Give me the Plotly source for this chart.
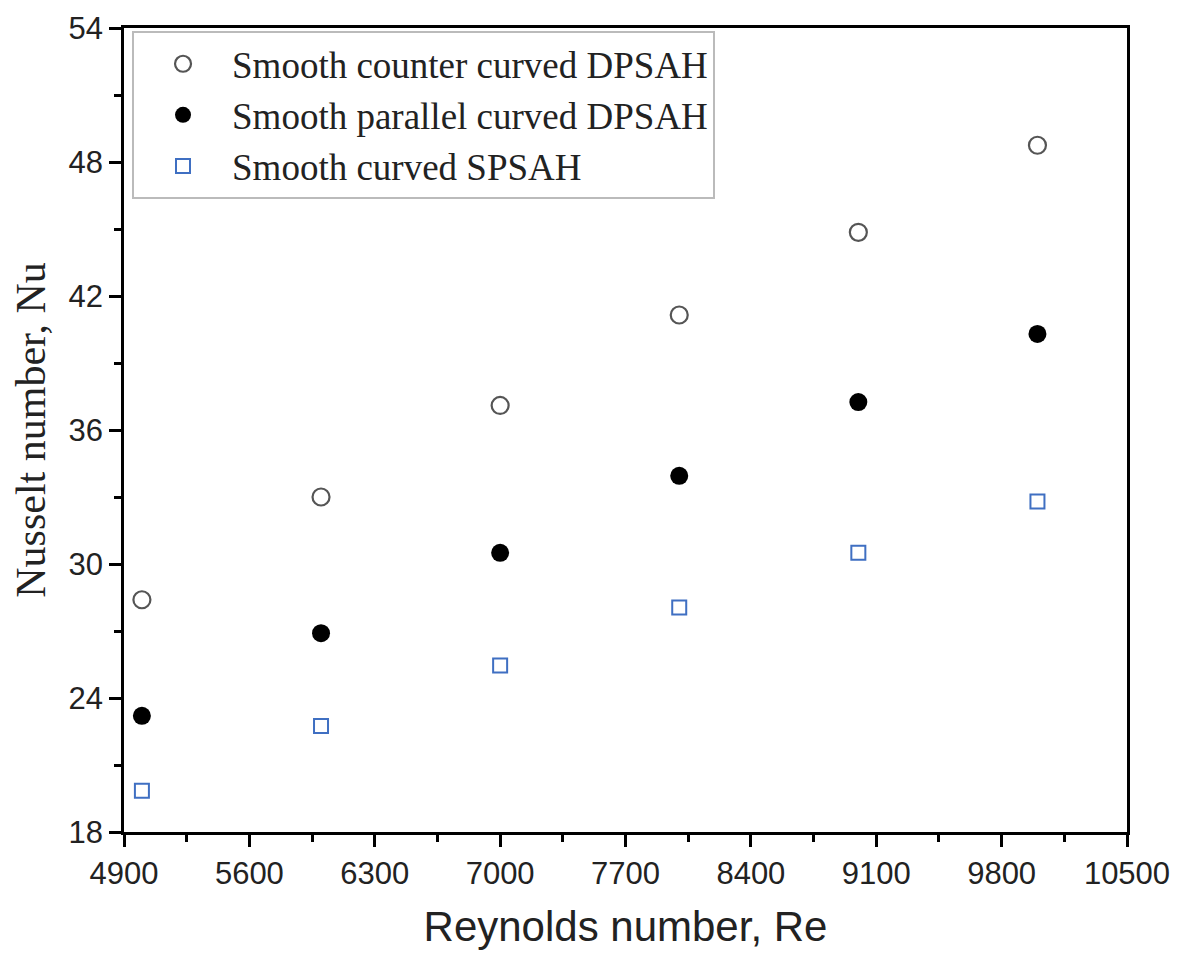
import plotly.graph_objects as go

reynolds = [5000, 6000, 7000, 8000, 9000, 10000]
nu_counter = [28.4, 33.0, 37.1, 41.15, 44.85, 48.75]
nu_parallel = [23.2, 26.9, 30.5, 33.95, 37.25, 40.3]
nu_single = [19.85, 22.75, 25.45, 28.05, 30.5, 32.8]
names = ["Smooth counter curved DPSAH", "Smooth parallel curved DPSAH", "Smooth curved SPSAH"]

fig = go.Figure()
fig.add_trace(go.Scatter(
    x=reynolds, y=nu_counter, mode="markers", name=names[0],
    marker=dict(symbol="circle-open", size=17, color="#555555", line=dict(width=2.2, color="#555555")),
))
fig.add_trace(go.Scatter(
    x=reynolds, y=nu_parallel, mode="markers", name=names[1],
    marker=dict(symbol="circle", size=18, color="#000000"),
))
fig.add_trace(go.Scatter(
    x=reynolds, y=nu_single, mode="markers", name=names[2],
    marker=dict(symbol="square-open", size=14, color="#3f6fc2", line=dict(width=2, color="#3f6fc2")),
))

axis_common = dict(
    showline=True, linecolor="black", linewidth=2.5, mirror=True,
    ticks="outside", ticklen=12, tickwidth=2.5, tickcolor="black",
    showgrid=False, zeroline=False, ticklabeloverflow="allow", automargin=False,
    tickfont=dict(family="Liberation Sans, Arial", size=31, color="#222222"),
)

fig.update_layout(
    width=1191, height=961,
    margin=dict(l=116, r=72, t=20, b=137),
    paper_bgcolor="white", plot_bgcolor="white",
    xaxis=dict(range=[4900, 10500], tick0=4900, dtick=700, tickformat="d",
               minor=dict(ticks="outside", ticklen=7, tickwidth=2.5, tickcolor="black", dtick=350, tick0=4900),
               title=dict(text="Reynolds number, Re", font=dict(family="Liberation Sans, Arial", size=42, color="#222222"), standoff=22),
               **axis_common),
    yaxis=dict(range=[18, 54], tick0=18, dtick=6, tickformat="d",
               minor=dict(ticks="outside", ticklen=7, tickwidth=2.5, tickcolor="black", dtick=3, tick0=18),
               title=dict(text="Nusselt number, Nu", font=dict(family="Liberation Serif, Times New Roman", size=42, color="#222222"), standoff=12),
               **axis_common),
    legend=dict(
        x=0.008, y=0.996, xanchor="left", yanchor="top",
        bgcolor="white", bordercolor="#bbbbbb", borderwidth=2,
        font=dict(family="Liberation Serif, Times New Roman", size=37, color="#222222"),
        itemwidth=88, tracegroupgap=0,
    ),
    showlegend=True,
)

fig.write_html("out.html")
